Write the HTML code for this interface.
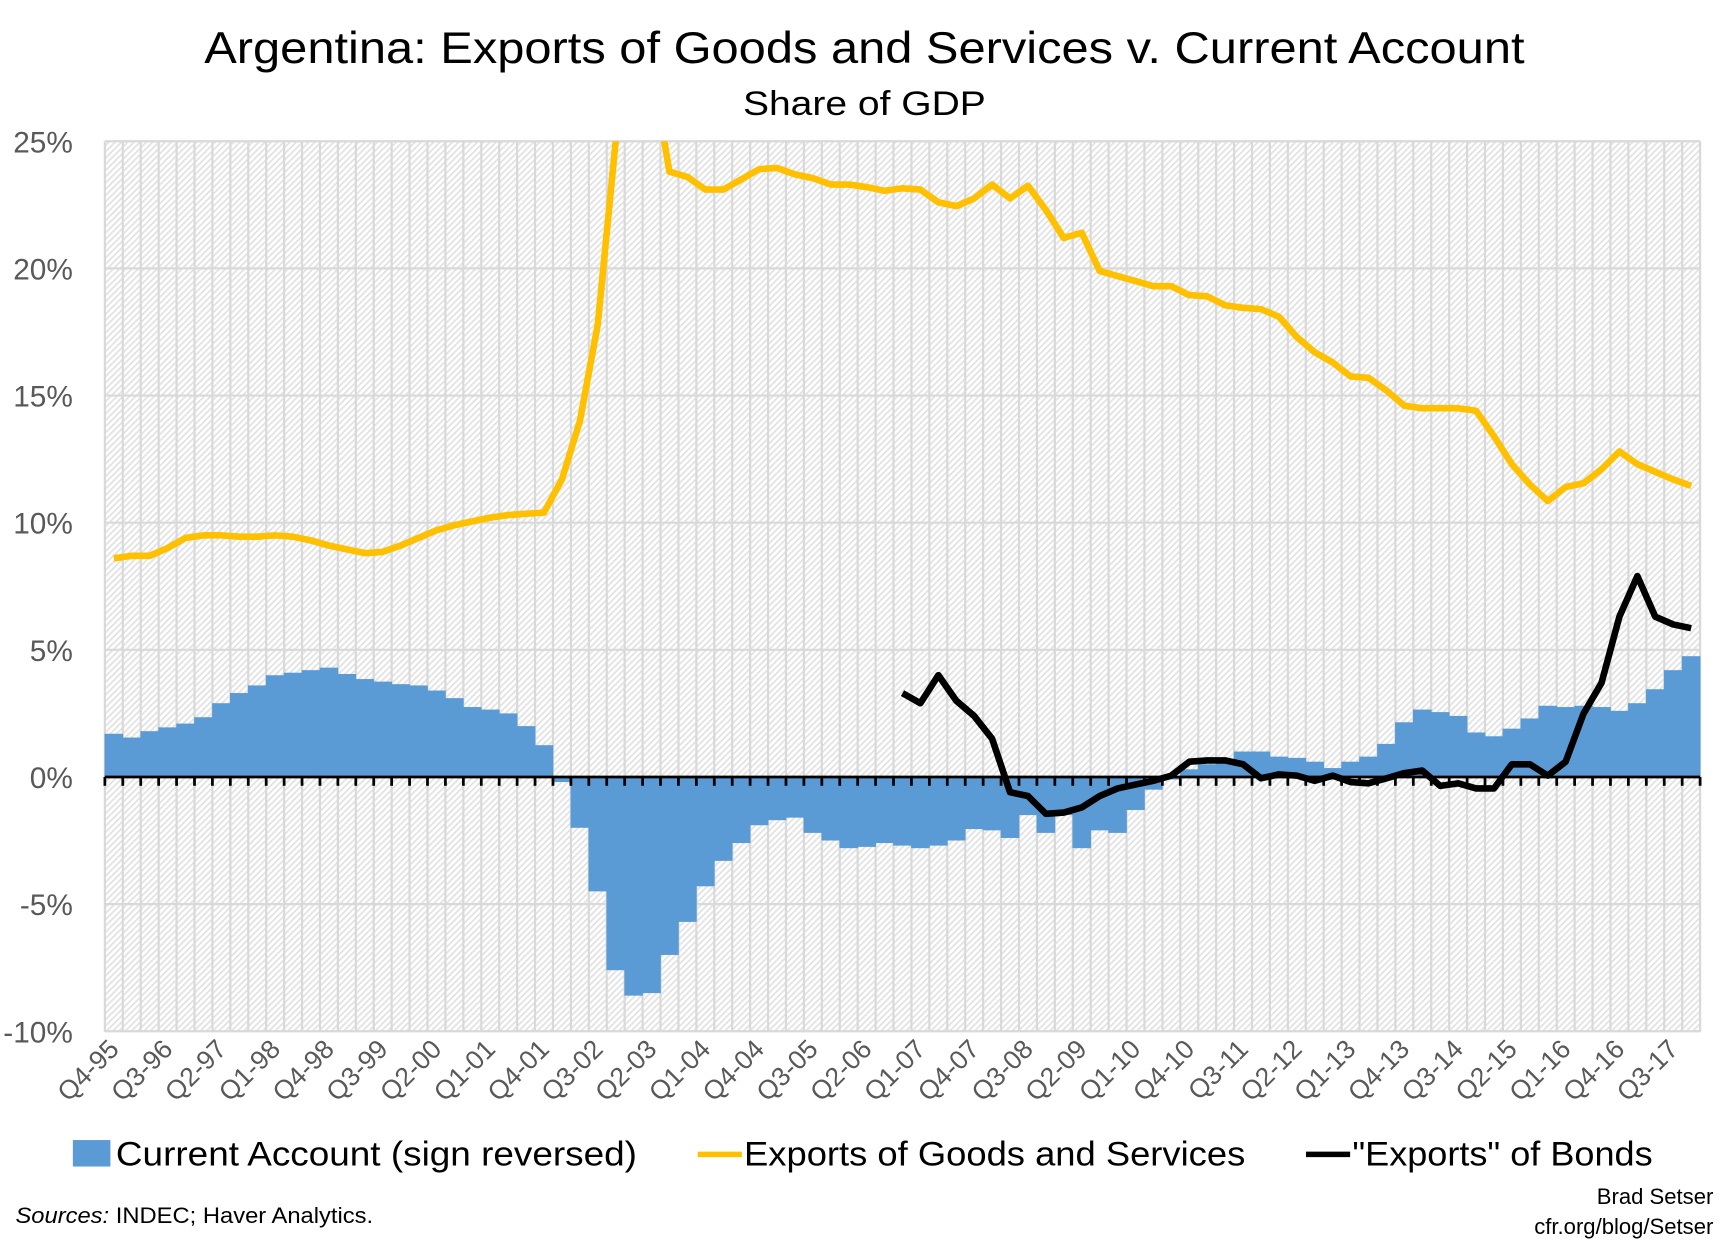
<!DOCTYPE html>
<html><head><meta charset="utf-8"><style>
html,body{margin:0;padding:0;background:#fff;}
svg{display:block;}
text{font-family:"Liberation Sans",sans-serif;}
</style></head><body>
<svg id="s" width="1731" height="1246" viewBox="0 0 1568 1129" preserveAspectRatio="none" xmlns="http://www.w3.org/2000/svg">
<defs>
<pattern id="h" width="4" height="4" patternUnits="userSpaceOnUse" patternTransform="rotate(45)">
<rect width="4" height="4" fill="#fff"/><rect width="1.6" height="4" fill="#e2e2e2"/>
</pattern>
<clipPath id="c"><rect x="95" y="128" width="1445" height="807"/></clipPath>
</defs>
<text x="783" y="57" text-anchor="middle" font-size="40" fill="#000" textLength="1196" lengthAdjust="spacingAndGlyphs">Argentina: Exports of Goods and Services v. Current Account</text>
<text x="783" y="104" text-anchor="middle" font-size="31" fill="#000" textLength="220" lengthAdjust="spacingAndGlyphs">Share of GDP</text>
<rect x="95" y="128" width="1445" height="807" fill="url(#h)"/>
<g id="g"></g>
</svg>
<script>
var NS="http://www.w3.org/2000/svg",g=document.getElementById('g');
function el(t,a,txt){var e=document.createElementNS(NS,t);for(var k in a)e.setAttribute(k,a[k]);if(txt)e.textContent=txt;g.appendChild(e);return e;}
var L=95,R=1540,N=89,W=(R-L)/N;
function y(v){return 704-v*23.04;}
for(var i=0;i<=N;i++){el('line',{x1:L+i*W,x2:L+i*W,y1:128,y2:935,stroke:'#d9d9d9','stroke-width':2});}
for(var v=-10;v<=25;v+=5){el('line',{x1:L,x2:R,y1:y(v),y2:y(v),stroke:'#d9d9d9','stroke-width':2});
el('text',{x:66,y:y(v)+10,'text-anchor':'end','font-size':27,fill:'#595959'},v+'%');}
var CA=[1.7,1.55,1.8,1.95,2.1,2.35,2.9,3.3,3.6,4.0,4.1,4.2,4.3,4.05,3.85,3.75,3.65,3.6,3.4,3.1,2.75,2.65,2.5,2.0,1.25,-0.2,-2.0,-4.5,-7.6,-8.6,-8.5,-7.0,-5.7,-4.3,-3.3,-2.6,-1.9,-1.7,-1.6,-2.2,-2.5,-2.8,-2.75,-2.6,-2.7,-2.8,-2.7,-2.5,-2.05,-2.1,-2.4,-1.5,-2.2,-1.5,-2.8,-2.1,-2.2,-1.3,-0.5,-0.1,0.3,0.5,0.6,1.0,1.0,0.8,0.75,0.6,0.35,0.6,0.8,1.3,2.15,2.65,2.55,2.4,1.75,1.6,1.9,2.3,2.8,2.75,2.8,2.75,2.6,2.9,3.45,4.2,4.75];
CA.forEach(function(v,i){var a=y(Math.max(v,0)),b=y(Math.min(v,0));el('rect',{x:L+i*W-0.3,y:a,width:W+0.6,height:b-a,fill:'#5b9bd5'});});
el('line',{x1:L,x2:R,y1:704,y2:704,stroke:'#000','stroke-width':2.5});
for(var i=0;i<=N;i++){el('line',{x1:L+i*W,x2:L+i*W,y1:704,y2:712,stroke:'#000','stroke-width':2.5});}
var E=[8.6,8.7,8.7,9.0,9.4,9.5,9.5,9.45,9.45,9.5,9.45,9.3,9.1,8.95,8.8,8.85,9.1,9.4,9.7,9.9,10.05,10.2,10.3,10.35,10.4,11.7,14.0,17.8,25,31,28,23.8,23.6,23.1,23.1,23.5,23.9,23.95,23.7,23.55,23.3,23.3,23.2,23.05,23.15,23.1,22.6,22.45,22.75,23.3,22.75,23.25,22.3,21.2,21.4,19.9,19.7,19.5,19.3,19.3,18.95,18.9,18.55,18.45,18.4,18.1,17.3,16.7,16.3,15.75,15.7,15.2,14.6,14.5,14.5,14.5,14.4,13.4,12.3,11.5,10.85,11.4,11.55,12.1,12.8,12.3,12.0,11.7,11.45];
function pts(arr,off){return arr.map(function(v,i){return (L+(i+off+0.5)*W).toFixed(1)+','+y(v).toFixed(1);}).join(' ');}
el('polyline',{points:pts(E,0),fill:'none',stroke:'#ffc000','stroke-width':6,'stroke-linejoin':'round','clip-path':'url(#c)'});
var B=[3.3,2.9,4.0,3.0,2.4,1.5,-0.6,-0.75,-1.45,-1.4,-1.2,-0.75,-0.45,-0.3,-0.15,0.05,0.6,0.65,0.65,0.5,-0.05,0.1,0.05,-0.15,0.05,-0.2,-0.25,-0.05,0.15,0.25,-0.35,-0.25,-0.45,-0.45,0.5,0.5,0.05,0.6,2.5,3.7,6.3,7.9,6.3,6.0,5.85];
el('polyline',{points:pts(B,44),fill:'none',stroke:'#000','stroke-width':6,'stroke-linejoin':'round'});
var q=['Q4-95','Q3-96','Q2-97','Q1-98','Q4-98','Q3-99','Q2-00','Q1-01','Q4-01','Q3-02','Q2-03','Q1-04','Q4-04','Q3-05','Q2-06','Q1-07','Q4-07','Q3-08','Q2-09','Q1-10','Q4-10','Q3-11','Q2-12','Q1-13','Q4-13','Q3-14','Q2-15','Q1-16','Q4-16','Q3-17'];
q.forEach(function(t,k){var x=L+(k*3+0.5)*W+6,yy=952;el('text',{x:x,y:yy,'text-anchor':'end','font-size':24,fill:'#595959',transform:'rotate(-45 '+x+' '+yy+')'},t);});
el('rect',{x:66,y:1033,width:34,height:24,fill:'#5b9bd5'});
el('text',{x:105,y:1056,'font-size':31,fill:'#000',textLength:472,lengthAdjust:'spacingAndGlyphs'},'Current Account (sign reversed)');
el('line',{x1:632,x2:672,y1:1046,y2:1046,stroke:'#ffc000','stroke-width':5});
el('text',{x:674,y:1056,'font-size':31,fill:'#000',textLength:454,lengthAdjust:'spacingAndGlyphs'},'Exports of Goods and Services');
el('line',{x1:1183,x2:1223,y1:1046,y2:1046,stroke:'#000','stroke-width':5});
el('text',{x:1225,y:1056,'font-size':31,fill:'#000',textLength:272,lengthAdjust:'spacingAndGlyphs'},'"Exports" of Bonds');
var s=el('text',{x:14,y:1108,'font-size':20,fill:'#000',textLength:324,lengthAdjust:'spacingAndGlyphs'});
s.innerHTML='<tspan font-style="italic">Sources:</tspan> INDEC; Haver Analytics.';
el('text',{x:1552,y:1091,'text-anchor':'end','font-size':20,fill:'#000'},'Brad Setser');
el('text',{x:1552,y:1118,'text-anchor':'end','font-size':20,fill:'#000'},'cfr.org/blog/Setser');
</script>
</body></html>
